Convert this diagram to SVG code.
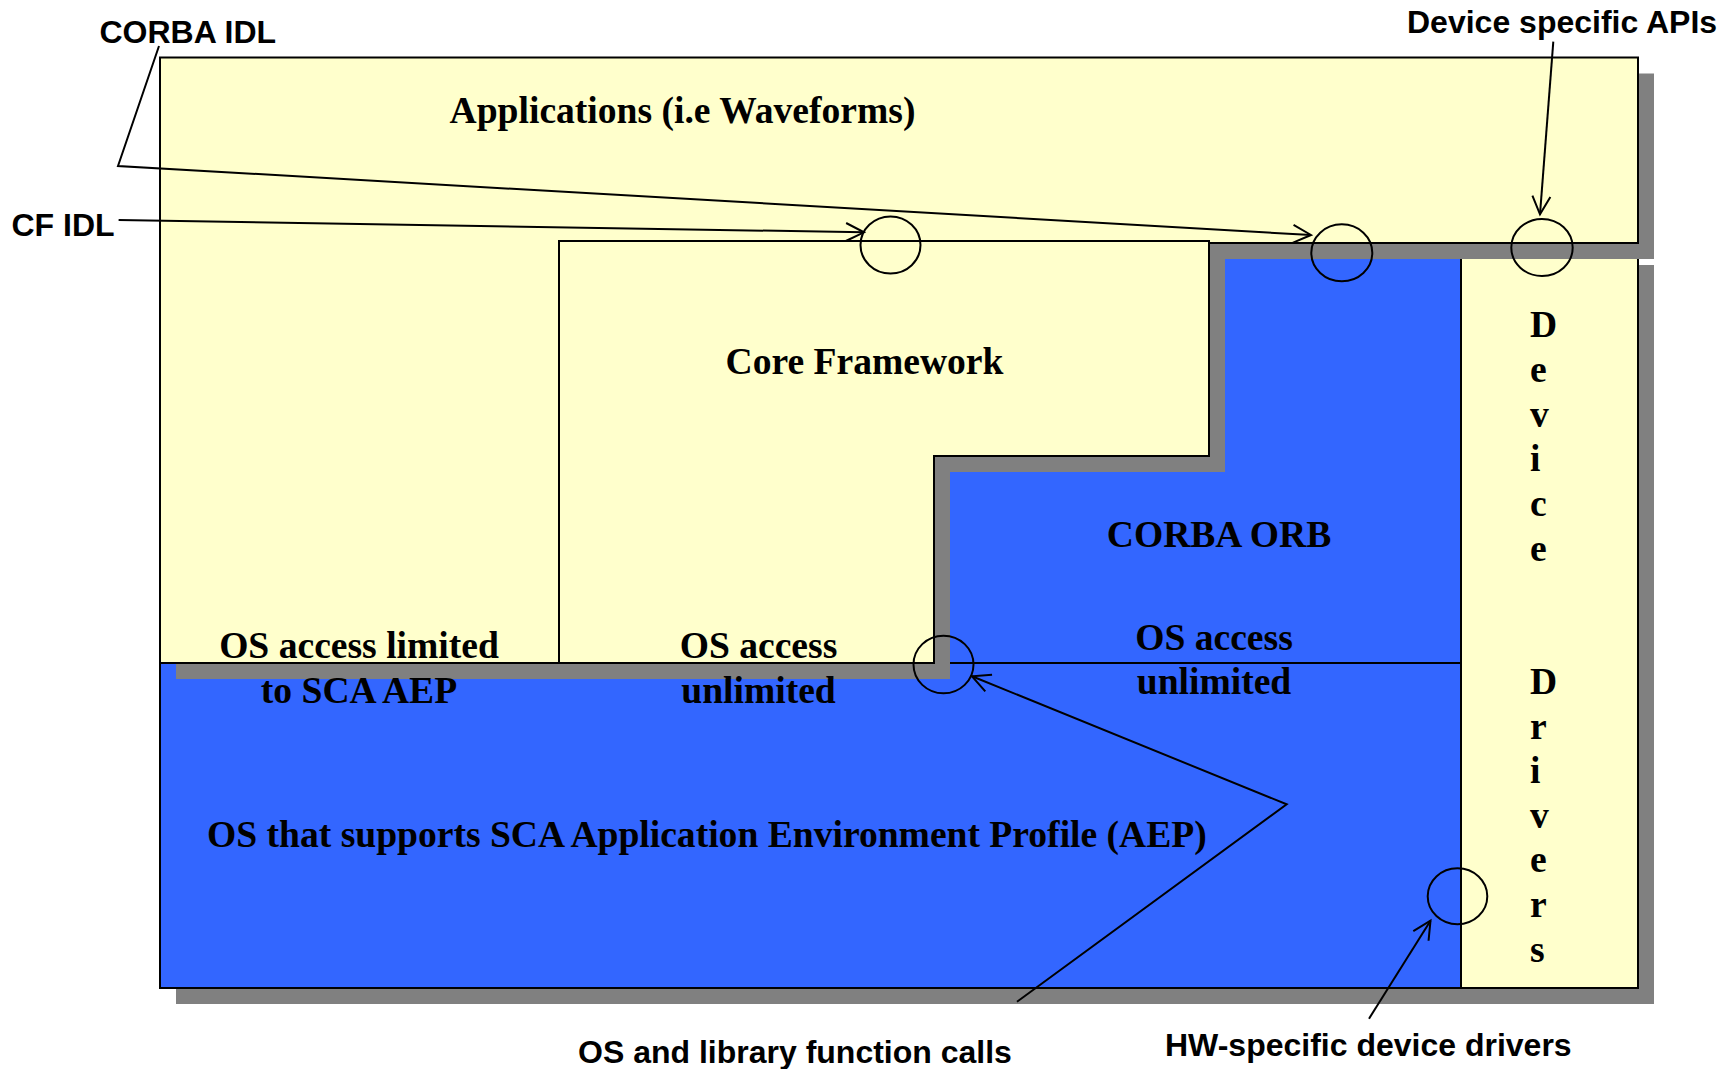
<svg xmlns="http://www.w3.org/2000/svg" width="1734" height="1069" viewBox="0 0 1734 1069">
  <style>
    .bg { fill: #ffffff; }
    .yellow { fill: #FFFFCC; stroke: #000; stroke-width: 2; stroke-linejoin: miter; }
    .blue { fill: #3366FF; stroke: #000; stroke-width: 2; stroke-linejoin: miter; }
    .shadow { fill: #808080; stroke: none; }
    .title { font-family: "Liberation Serif", "Times New Roman", serif; font-weight: bold; font-size: 37.6px; fill: #000; }
    .mid { text-anchor: middle; }
    .callout { font-family: "Liberation Sans", Arial, sans-serif; font-weight: bold; font-size: 32px; fill: #000; }
    .ring { fill: none; stroke: #000; stroke-width: 2; }
    .conn { fill: none; stroke: #000; stroke-width: 2; }
  </style>
  <defs>
    <marker id="openArrow" markerUnits="userSpaceOnUse" markerWidth="20" markerHeight="20" viewBox="0 0 20 20" refX="19" refY="10" orient="auto" overflow="visible">
      <path d="M1,1 L19,10 L1,19" fill="none" stroke="#000" stroke-width="2"/>
    </marker>
  </defs>

  <rect class="bg" x="0" y="0" width="1734" height="1069"/>

  <!-- Operating system layer -->
  <g id="os">
    <rect class="shadow" x="176" y="679" width="1301" height="325"/>
    <rect class="blue" x="160" y="663" width="1301" height="325"/>
    <text class="title" x="207" y="846.5">OS that supports SCA Application Environment Profile (AEP)</text>
  </g>

  <!-- Device drivers column -->
  <g id="device-drivers">
    <rect class="shadow" x="1477" y="265" width="177" height="739"/>
    <rect class="yellow" x="1461" y="249" width="177" height="739"/>
    <text class="title">
      <tspan x="1530" y="337">D</tspan>
      <tspan x="1530" y="381.8">e</tspan>
      <tspan x="1530" y="426.6">v</tspan>
      <tspan x="1530" y="471.4">i</tspan>
      <tspan x="1530" y="516.2">c</tspan>
      <tspan x="1530" y="561">e</tspan>
      <tspan x="1530" y="694">D</tspan>
      <tspan x="1530" y="738.6">r</tspan>
      <tspan x="1530" y="783.2">i</tspan>
      <tspan x="1530" y="827.8">v</tspan>
      <tspan x="1530" y="872.4">e</tspan>
      <tspan x="1530" y="917">r</tspan>
      <tspan x="1530" y="961.6">s</tspan>
    </text>
  </g>

  <!-- CORBA ORB layer -->
  <g id="corba-orb">
    <polygon class="blue" points="1209,243 1461,243 1461,663 934,663 934,456 1209,456"/>
    <text class="title mid" x="1219" y="546.5">CORBA ORB</text>
    <text class="title mid" x="1214" y="649.5">OS access</text>
    <text class="title mid" x="1214" y="694">unlimited</text>
  </g>

  <!-- Applications layer -->
  <g id="applications">
    <polygon class="shadow" points="176,73.5 1654,73.5 1654,259 575,259 575,679 176,679"/>
    <polygon class="yellow" points="160,57.5 1638,57.5 1638,243 559,243 559,663 160,663"/>
    <text class="title mid" x="682.5" y="122.5">Applications (i.e Waveforms)</text>
    <text class="title mid" x="359" y="658">OS access limited</text>
    <text class="title mid" x="359" y="703">to SCA AEP</text>
  </g>

  <!-- Core Framework layer -->
  <g id="core-framework">
    <polygon class="shadow" points="575,257 1225,257 1225,472 950,472 950,679 575,679"/>
    <polygon class="yellow" points="559,241 1209,241 1209,456 934,456 934,663 559,663"/>
    <text class="title mid" x="864.5" y="374">Core Framework</text>
    <text class="title mid" x="758.5" y="658">OS access</text>
    <text class="title mid" x="758.5" y="703">unlimited</text>
  </g>

  <!-- Interface points -->
  <g id="interfaces">
    <ellipse id="cf-idl-point" class="ring" cx="890.5" cy="245" rx="30" ry="28.5"/>
    <ellipse id="corba-idl-point" class="ring" cx="1341.8" cy="252.8" rx="30.5" ry="28.5"/>
    <ellipse id="device-api-point" class="ring" cx="1542" cy="247.5" rx="30.7" ry="28.5"/>
    <ellipse id="os-call-point" class="ring" cx="943.5" cy="664.5" rx="30" ry="28.8"/>
    <ellipse id="hw-driver-point" class="ring" cx="1457.5" cy="896.3" rx="29.8" ry="28"/>
  </g>

  <!-- Callout labels -->
  <g id="callouts">
    <text class="callout" x="99.5" y="43">CORBA IDL</text>
    <text class="callout" x="1407" y="32.5">Device specific APIs</text>
    <text class="callout" x="11.5" y="236">CF IDL</text>
    <text class="callout" x="578" y="1062.5">OS and library function calls</text>
    <text class="callout" x="1165" y="1055.5">HW-specific device drivers</text>
  </g>

  <!-- Connectors -->
  <g id="connectors">
    <polyline class="conn" points="159,46 118,166 1311,235" marker-end="url(#openArrow)"/>
    <line class="conn" x1="118.6" y1="220" x2="864" y2="232.3" marker-end="url(#openArrow)"/>
    <line class="conn" x1="1553.3" y1="41.7" x2="1540" y2="214.3" marker-end="url(#openArrow)"/>
    <polyline class="conn" points="1017,1001.7 1286.7,804.3 972,676.3" marker-end="url(#openArrow)"/>
    <line class="conn" x1="1369" y1="1018.7" x2="1430.5" y2="920.7" marker-end="url(#openArrow)"/>
  </g>
</svg>
